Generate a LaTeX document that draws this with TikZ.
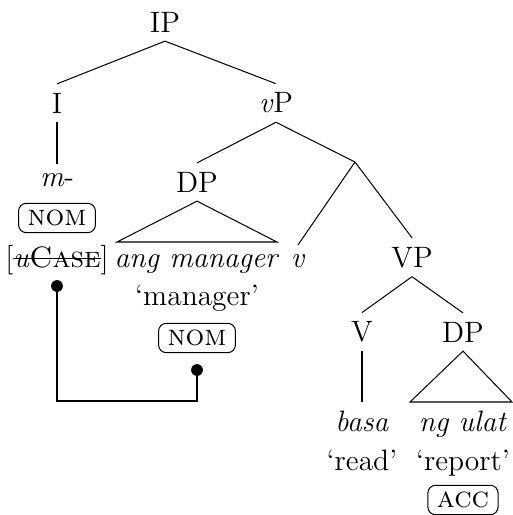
\documentclass[tikz,border=0pt]{standalone}

\newsavebox\strikebox
\newcommand\strikethru[1]{\sbox\strikebox{#1}\rlap{\rule[0.6ex]{\wd\strikebox}{0.45pt}}\usebox\strikebox}

\begin{document}
\begin{tikzpicture}[x=0.39pt, y=-0.39pt, font=\fontsize{11.5}{13}\selectfont,
        casebox/.style={draw, rounded corners=3pt, inner xsep=3.5pt, inner ysep=2.6pt,
            font=\fontsize{11.5}{13}\selectfont\scshape},
        linkdot/.style={fill=black}]
    \useasboundingbox (0,0) rectangle (513,515);
    % top of the tree
    \node (ip) at (165,22) {IP};
    \node (i) at (57,103) {I};
    \node (vp) at (276,103) {\textit{v}P};
    \draw (ip.south) -- (i.north);
    \draw (ip.south) -- (vp.north);
    % the I column
    \node[anchor=base] (m) at (57,186) {\textit{m}-};
    \node[casebox] (nomi) at (57,218) {nom};
    \node[anchor=base] (ucase) at (57,267) {[\strikethru{\textit{u}\textsc{Case}}]};
    \draw (i.south) -- (m.north);
    % subject DP
    \node (dps) at (197,182) {DP};
    \coordinate (vbar) at (355,162);
    \draw (vp.south) -- (dps.north);
    \draw (vp.south) -- (vbar);
    \node[anchor=base] (angm) at (197,267) {\textit{ang manager}};
    \draw (dps.south) -- (117,242) -- (277,242) -- cycle;
    \node[anchor=base] (glossm) at (197,305) {‘manager’};
    \node[casebox] (nomd) at (197,338) {nom};
    % v and VP
    \node[anchor=base] (v) at (298,267) {\textit{v}};
    \node[anchor=base] (vpp) at (412,267) {VP};
    \draw (vbar) -- (v.north);
    \draw (vbar) -- (vpp.north);
    \node (vv) at (362,332) {V};
    \node (dpo) at (463,332) {DP};
    \draw (vpp.south) -- (vv.north);
    \draw (vpp.south) -- (dpo.north);
    \node[anchor=base] (basa) at (362,431) {\textit{basa}};
    \node[anchor=base] (ngulat) at (463,431) {\textit{ng ulat}};
    \draw (vv.south) -- (vv.south |- 0,402);
    \draw (dpo.south) -- (410,402) -- (512,402) -- cycle;
    \node[anchor=base] (glossr) at (362,470) {‘read’};
    \node[anchor=base] (glossp) at (463,470) {‘report’};
    \node[casebox] (acc) at (463,500) {acc};
    % agreement link
    \coordinate (dotu) at (57,286);
    \coordinate (dotn) at (197,370);
    \draw (dotu) -- (dotu |- 0,401) -| (dotn);
    \fill[linkdot] (dotu) circle[radius=2.3pt];
    \fill[linkdot] (dotn) circle[radius=2.3pt];
\end{tikzpicture}
\end{document}
